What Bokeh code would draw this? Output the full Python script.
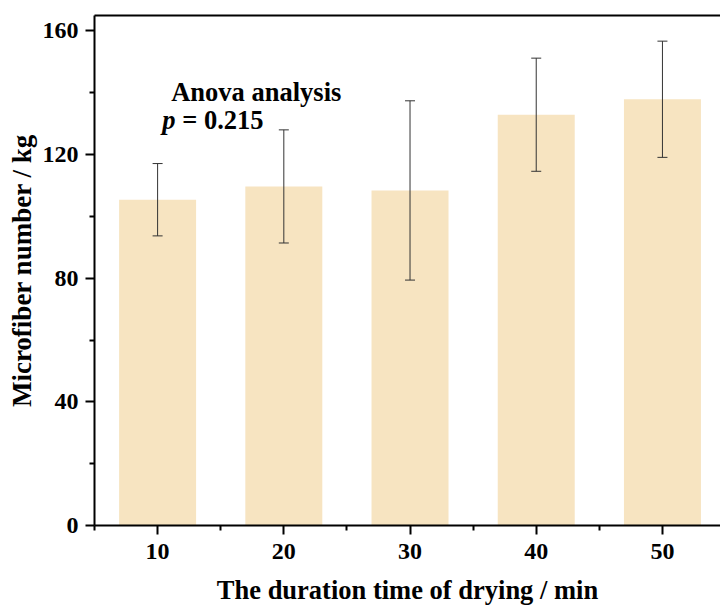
from bokeh.plotting import figure
from bokeh.models import Range1d, FixedTicker, LinearAxis, Whisker, ColumnDataSource, TeeHead, Label
from bokeh.embed import file_html
from bokeh.resources import INLINE

durations = [10, 20, 30, 40, 50]
means = [105.4, 109.7, 108.4, 132.9, 137.9]
errors = [11.7, 18.3, 29.0, 18.3, 18.8]
x_ticks = [10, 20, 30, 40, 50]
y_ticks = [0, 40, 80, 120, 160]
anova_title = "Anova analysis"
p_symbol = "p"
p_value_text = "= 0.215"

FONT = "Liberation Serif"

src = ColumnDataSource(dict(
    x=durations, top=means,
    upper=[m + e for m, e in zip(means, errors)],
    lower=[m - e for m, e in zip(means, errors)],
))

p = figure(width=720, height=610, output_backend="svg", toolbar_location=None,
           x_range=Range1d(5, 54.6), y_range=Range1d(0, 165),
           min_border_left=94, min_border_right=0, min_border_top=15, min_border_bottom=85)
p.outline_line_color = None
p.grid.visible = False
p.background_fill_color = "white"

p.vbar(x="x", top="top", bottom=0, width=6.1, source=src, fill_color="#F7E4C1", line_color=None)

w = Whisker(source=src, base="x", upper="upper", lower="lower",
            line_color="#333333", line_width=1, level="overlay",
            upper_head=TeeHead(size=10, line_color="#333333", line_width=1),
            lower_head=TeeHead(size=10, line_color="#333333", line_width=1))
p.add_layout(w)

for ax in (p.xaxis[0], p.yaxis[0]):
    ax.axis_line_width = 2
    ax.axis_line_color = "black"
    ax.major_tick_line_width = 2
    ax.minor_tick_line_width = 2
    ax.major_tick_in = 0
    ax.major_tick_out = 9
    ax.minor_tick_in = 0
    ax.minor_tick_out = 5
    ax.major_label_text_font = FONT
    ax.major_label_text_font_style = "bold"
    ax.major_label_text_font_size = "24px"
    ax.major_label_text_color = "black"
    ax.axis_label_text_font = FONT
    ax.axis_label_text_font_style = "bold"
    ax.axis_label_text_color = "black"

p.xaxis.axis_label_text_font_size = "26.5px"
p.yaxis.axis_label_text_font_size = "27px"
p.xaxis.ticker = FixedTicker(ticks=x_ticks, minor_ticks=[5, 15, 25, 35, 45, 55])
p.yaxis.ticker = FixedTicker(ticks=y_ticks, minor_ticks=[20, 60, 100, 140])
p.xaxis.axis_label = "The duration time of drying / min"
p.yaxis.axis_label = "Microfiber number / kg"
p.xaxis.major_label_standoff = 9
p.xaxis.axis_label_standoff = 13
p.yaxis.major_label_standoff = 7
p.yaxis.axis_label_standoff = 3

top_axis = LinearAxis(axis_line_width=2, axis_line_color="black",
                      ticker=FixedTicker(ticks=[], minor_ticks=[]),
                      major_tick_line_color=None, minor_tick_line_color=None)
p.add_layout(top_axis, "above")

common = dict(text_font=FONT, text_font_size="26.5px", text_color="black", text_baseline="alphabetic")
p.add_layout(Label(x=11.08, y=140.4, text=anova_title, text_font_style="bold", **common))
p.add_layout(Label(x=10.36, y=131.1, text=p_symbol, text_font_style="bold italic", **common))
p.add_layout(Label(x=11.95, y=131.1, text=p_value_text, text_font_style="bold", **common))

open("out.html", "w").write(file_html(p, INLINE))
